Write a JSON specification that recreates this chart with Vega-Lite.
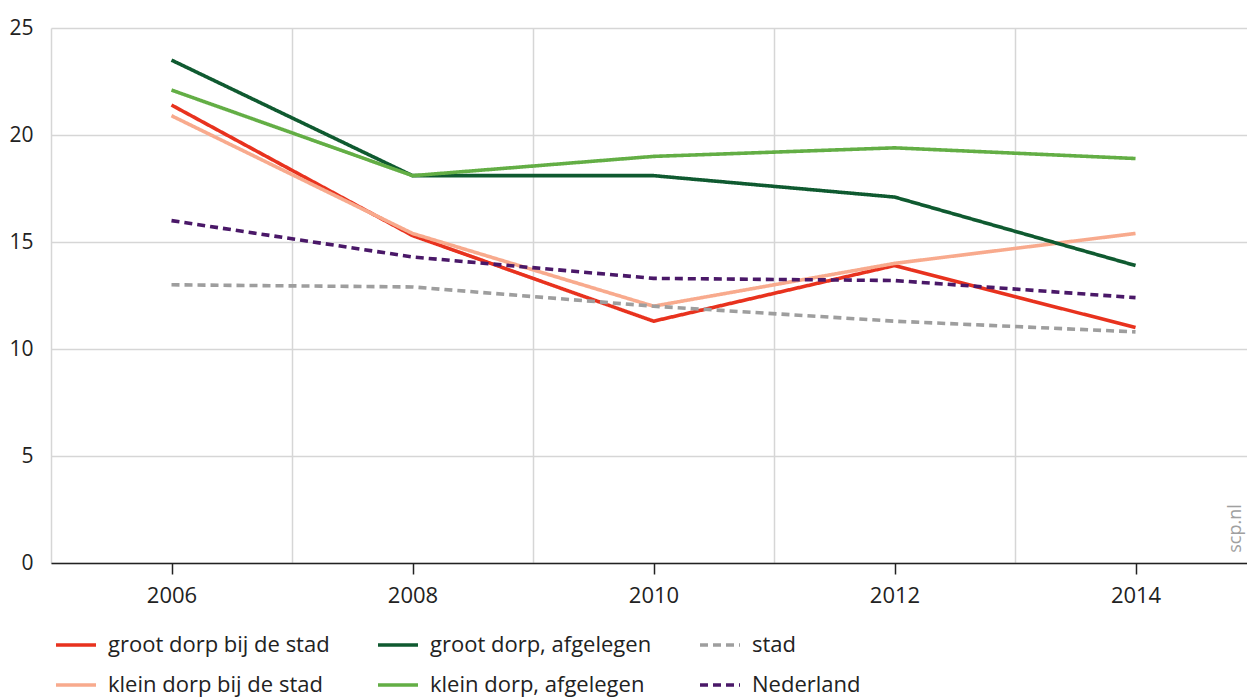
{
  "$schema": "https://vega.github.io/schema/vega-lite/v6.json",
  "width": 1196,
  "height": 535,
  "autosize": {"type": "none"},
  "padding": {"left": 51, "top": 28, "right": 0, "bottom": 134},
  "background": "white",
  "config": {
    "view": {"stroke": null},
    "font": "Open Sans",
    "axis": {"labelFont": "Open Sans", "labelColor": "#222222"},
    "legend": {"labelFont": "Open Sans"}
  },
  "data": {
    "values": [
      {"jaar": 2006, "groep": "groot dorp bij de stad", "waarde": 21.4},
      {"jaar": 2008, "groep": "groot dorp bij de stad", "waarde": 15.3},
      {"jaar": 2010, "groep": "groot dorp bij de stad", "waarde": 11.3},
      {"jaar": 2012, "groep": "groot dorp bij de stad", "waarde": 13.9},
      {"jaar": 2014, "groep": "groot dorp bij de stad", "waarde": 11.0},
      {"jaar": 2006, "groep": "klein dorp bij de stad", "waarde": 20.9},
      {"jaar": 2008, "groep": "klein dorp bij de stad", "waarde": 15.4},
      {"jaar": 2010, "groep": "klein dorp bij de stad", "waarde": 12.0},
      {"jaar": 2012, "groep": "klein dorp bij de stad", "waarde": 14.0},
      {"jaar": 2014, "groep": "klein dorp bij de stad", "waarde": 15.4},
      {"jaar": 2006, "groep": "groot dorp, afgelegen", "waarde": 23.5},
      {"jaar": 2008, "groep": "groot dorp, afgelegen", "waarde": 18.1},
      {"jaar": 2010, "groep": "groot dorp, afgelegen", "waarde": 18.1},
      {"jaar": 2012, "groep": "groot dorp, afgelegen", "waarde": 17.1},
      {"jaar": 2014, "groep": "groot dorp, afgelegen", "waarde": 13.9},
      {"jaar": 2006, "groep": "klein dorp, afgelegen", "waarde": 22.1},
      {"jaar": 2008, "groep": "klein dorp, afgelegen", "waarde": 18.1},
      {"jaar": 2010, "groep": "klein dorp, afgelegen", "waarde": 19.0},
      {"jaar": 2012, "groep": "klein dorp, afgelegen", "waarde": 19.4},
      {"jaar": 2014, "groep": "klein dorp, afgelegen", "waarde": 18.9},
      {"jaar": 2006, "groep": "stad", "waarde": 13.0},
      {"jaar": 2008, "groep": "stad", "waarde": 12.9},
      {"jaar": 2010, "groep": "stad", "waarde": 12.0},
      {"jaar": 2012, "groep": "stad", "waarde": 11.3},
      {"jaar": 2014, "groep": "stad", "waarde": 10.8},
      {"jaar": 2006, "groep": "Nederland", "waarde": 16.0},
      {"jaar": 2008, "groep": "Nederland", "waarde": 14.3},
      {"jaar": 2010, "groep": "Nederland", "waarde": 13.3},
      {"jaar": 2012, "groep": "Nederland", "waarde": 13.2},
      {"jaar": 2014, "groep": "Nederland", "waarde": 12.4}
    ]
  },
  "resolve": {"axis": {"x": "independent", "y": "independent"}},
  "layer": [
    {
      "mark": {"type": "point", "opacity": 0},
      "encoding": {
        "x": {
          "field": "jaar", "type": "quantitative",
          "scale": {"domain": [2005, 2014.925], "nice": false, "zero": false},
          "axis": {
            "orient": "top", "values": [2005, 2007, 2009, 2011, 2013],
            "grid": true, "gridColor": "#d6d6d6", "gridWidth": 1.5,
            "labels": false, "ticks": false, "domain": false, "title": null
          }
        },
        "y": {
          "field": "waarde", "type": "quantitative",
          "scale": {"domain": [0, 25], "nice": false},
          "axis": {
            "orient": "right", "labels": false, "ticks": false, "domain": false, "grid": false,
            "title": "scp.nl", "titleAngle": 270, "titleX": -12, "titleY": 500,
            "titleAlign": "center", "titleBaseline": "middle",
            "titleFont": "Open Sans", "titleFontSize": 18, "titleFontWeight": "normal", "titleColor": "#a0a0a0"
          }
        }
      }
    },
    {
      "mark": {"type": "line", "strokeWidth": 3.6, "strokeCap": "butt", "strokeJoin": "miter"},
      "encoding": {
        "x": {
          "field": "jaar", "type": "quantitative",
          "axis": {
            "orient": "bottom", "values": [2006, 2008, 2010, 2012, 2014], "format": "d",
            "grid": false, "domain": true, "domainColor": "#222222", "domainWidth": 1.5,
            "ticks": true, "tickColor": "#222222", "tickWidth": 1.5, "tickSize": 11,
            "labelFontSize": 22, "labelPadding": 11, "title": null, "zindex": 1
          }
        },
        "y": {
          "field": "waarde", "type": "quantitative",
          "axis": {
            "orient": "left", "values": [0, 5, 10, 15, 20, 25],
            "grid": true, "gridColor": "#d6d6d6", "gridWidth": 1.5,
            "domain": false, "ticks": false, "labelFontSize": 21, "labelPadding": 18,
            "labelBaseline": "middle", "title": null
          }
        },
        "color": {
          "field": "groep", "type": "nominal",
          "scale": {
            "domain": ["groot dorp bij de stad", "groot dorp, afgelegen", "stad", "klein dorp bij de stad", "klein dorp, afgelegen", "Nederland"],
            "range": ["#e8321e", "#0f5a30", "#9e9e9e", "#f8aa8d", "#63ae45", "#4a1868"]
          },
          "legend": {
            "orient": "none", "legendX": 3, "legendY": 595, "direction": "horizontal", "columns": 3,
            "title": null, "padding": 0,
            "symbolType": "stroke", "symbolSize": 1600, "symbolStrokeWidth": 3.5,
            "labelFontSize": 22, "labelColor": "#222222", "labelOffset": 10, "labelLimit": 400,
            "columnPadding": 41, "rowPadding": 7
          }
        },
        "strokeDash": {
          "field": "groep", "type": "nominal",
          "scale": {
            "domain": ["groot dorp bij de stad", "groot dorp, afgelegen", "stad", "klein dorp bij de stad", "klein dorp, afgelegen", "Nederland"],
            "range": [[1, 0], [1, 0], [8, 5], [1, 0], [1, 0], [8, 5]]
          },
          "legend": null
        }
      }
    }
  ]
}
